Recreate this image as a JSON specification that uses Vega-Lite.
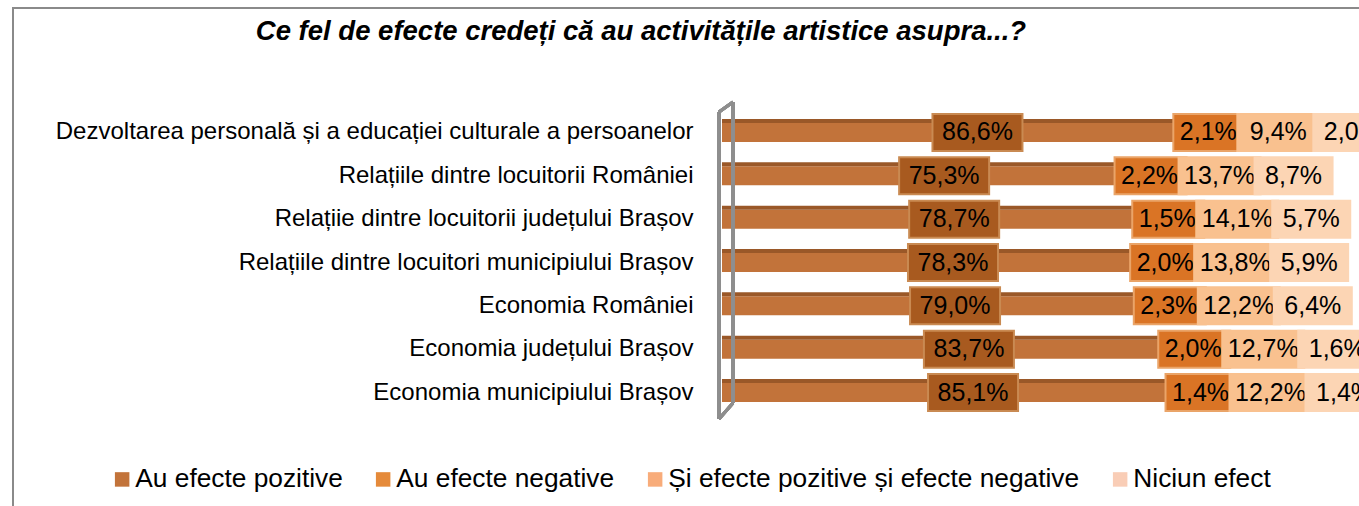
{
  "$schema": "https://vega.github.io/schema/vega-lite/v6.json",
  "autosize": "none",
  "width": 1420,
  "height": 520,
  "padding": {"left": 13, "top": 8, "right": 0, "bottom": 0},
  "background": "white",
  "config": {
    "view": {"stroke": "#8A8A8A", "strokeWidth": 2},
    "font": "Liberation Sans",
    "locale": {"number": {"decimal": ",", "thousands": ".", "grouping": [3], "currency": ["", " lei"]}}
  },
  "title": {
    "text": "Ce fel de efecte credeți că au activitățile artistice asupra...?",
    "font": "Liberation Sans",
    "fontSize": 27.5,
    "fontWeight": "bold",
    "fontStyle": "italic",
    "color": "black",
    "anchor": "middle",
    "frame": "group",
    "baseline": "alphabetic",
    "offset": -59,
    "dx": -82
  },
  "data": {
    "values": [
      {"cat": "Dezvoltarea personală și a educației culturale a persoanelor", "a_poz": 0.866, "b_neg": 0.021, "c_amb": 0.094, "d_nic": 0.020},
      {"cat": "Relațiile dintre locuitorii României", "a_poz": 0.753, "b_neg": 0.022, "c_amb": 0.137, "d_nic": 0.087},
      {"cat": "Relațiie dintre locuitorii județului Brașov", "a_poz": 0.787, "b_neg": 0.015, "c_amb": 0.141, "d_nic": 0.057},
      {"cat": "Relațiile dintre locuitori municipiului Brașov", "a_poz": 0.783, "b_neg": 0.020, "c_amb": 0.138, "d_nic": 0.059},
      {"cat": "Economia României", "a_poz": 0.790, "b_neg": 0.023, "c_amb": 0.122, "d_nic": 0.064},
      {"cat": "Economia județului Brașov", "a_poz": 0.837, "b_neg": 0.020, "c_amb": 0.127, "d_nic": 0.016},
      {"cat": "Economia municipiului Brașov", "a_poz": 0.851, "b_neg": 0.014, "c_amb": 0.122, "d_nic": 0.014}
    ]
  },
  "resolve": {"scale": {"x": "independent"}},
  "layer": [
    {
      "encoding": {
        "y": {
          "field": "cat",
          "type": "nominal",
          "sort": null,
          "scale": {"range": [102.8, 406.2], "paddingInner": 0, "paddingOuter": 0},
          "axis": {
            "title": null,
            "offset": -706,
            "labelPadding": 26,
            "ticks": false,
            "domain": false,
            "grid": false,
            "labelFont": "Liberation Sans",
            "labelFontSize": 24,
            "labelColor": "black",
            "labelLimit": 900
          }
        }
      },
      "layer": [
        {
          "transform": [{"fold": ["a_poz", "b_neg", "c_amb", "d_nic"], "as": ["serie", "val"]}],
          "mark": {"type": "bar", "height": 19},
          "encoding": {
            "x": {"field": "val", "type": "quantitative", "stack": "zero", "scale": {"domain": [0, 1], "range": [709, 1299]}, "axis": null},
            "order": {"field": "serie", "sort": "ascending"},
            "color": {
              "field": "serie",
              "type": "nominal",
              "scale": {"domain": ["a_poz", "b_neg", "c_amb", "d_nic"], "range": ["#C2733A", "#E58A3A", "#F8AC7A", "#F9CDB6"]},
              "legend": {
                "orient": "none",
                "legendX": 96,
                "legendY": 458,
                "direction": "horizontal",
                "title": null,
                "symbolType": "square",
                "symbolSize": 210,
                "symbolStrokeWidth": 0,
                "labelFont": "Liberation Sans",
                "labelFontSize": 26.3,
                "labelColor": "black",
                "labelOffset": 0,
                "labelLimit": 700,
                "columnPadding": 27,
                "labelExpr": "datum.value == 'a_poz' ? 'Au efecte pozitive' : datum.value == 'b_neg' ? 'Au efecte negative' : datum.value == 'c_amb' ? 'Și efecte pozitive și efecte negative' : 'Niciun efect'"
              }
            }
          }
        },
        {
          "transform": [{"fold": ["a_poz", "b_neg", "c_amb", "d_nic"], "as": ["serie", "val"]}],
          "mark": {"type": "bar", "height": 4, "yOffset": -11.5, "color": "#9A5828"},
          "encoding": {
            "x": {"field": "val", "type": "quantitative", "stack": "zero"},
            "order": {"field": "serie", "sort": "ascending"}
          }
        }
      ]
    },
    {
      "encoding": {
        "x": {"field": "a_poz", "type": "quantitative", "scale": {"domain": [0, 1], "range": [709, 1229]}, "axis": null},
        "y": {"field": "cat", "type": "nominal", "sort": null}
      },
      "layer": [
        {
          "mark": {"type": "tick", "thickness": 72, "size": 37, "xOffset": 37, "color": "#DA7425", "stroke": "#EAA468", "strokeWidth": 2, "opacity": 1}
        },
        {
          "mark": {"type": "text", "dx": 36, "fontSize": 25, "align": "center", "baseline": "middle", "color": "black"},
          "encoding": {"text": {"field": "b_neg", "type": "quantitative", "format": ".1%"}}
        },
        {
          "mark": {"type": "tick", "thickness": 84, "size": 39, "xOffset": 106, "color": "#F9C18F", "opacity": 1}
        },
        {
          "mark": {"type": "text", "dx": 106, "fontSize": 25, "align": "center", "baseline": "middle", "color": "black"},
          "encoding": {"text": {"field": "c_amb", "type": "quantitative", "format": ".1%"}}
        },
        {
          "mark": {"type": "tick", "thickness": 80, "size": 39, "xOffset": 180, "color": "#FCD5B4", "opacity": 1}
        },
        {
          "mark": {"type": "text", "dx": 180, "fontSize": 25, "align": "center", "baseline": "middle", "color": "black"},
          "encoding": {"text": {"field": "d_nic", "type": "quantitative", "format": ".1%"}}
        }
      ]
    },
    {
      "layer": [
        {
          "mark": {"type": "tick", "thickness": 90, "size": 37, "color": "#A85A1F", "stroke": "#C98A52", "strokeWidth": 2, "opacity": 1},
          "encoding": {
            "x": {"field": "a_poz", "type": "quantitative", "scale": {"domain": [0, 1], "range": [709, 1004]}, "axis": null},
            "y": {"field": "cat", "type": "nominal", "sort": null}
          }
        },
        {
          "mark": {"type": "text", "fontSize": 25, "align": "center", "baseline": "middle", "color": "black"},
          "encoding": {
            "x": {"field": "a_poz", "type": "quantitative"},
            "y": {"field": "cat", "type": "nominal", "sort": null},
            "text": {"field": "a_poz", "type": "quantitative", "format": ".1%"}
          }
        },
        {
          "mark": {"type": "rule", "color": "#8E8E8E", "strokeWidth": 3, "xOffset": -3, "yOffset": -20.5, "y2Offset": 26.5},
          "encoding": {
            "x": {"datum": 0, "type": "quantitative"},
            "y": {"datum": "Dezvoltarea personală și a educației culturale a persoanelor", "type": "nominal"},
            "y2": {"datum": "Economia municipiului Brașov"}
          }
        },
        {
          "mark": {"type": "rule", "color": "#8E8E8E", "strokeWidth": 3, "xOffset": 11, "yOffset": -30.5, "y2Offset": 10.5},
          "encoding": {
            "x": {"datum": 0, "type": "quantitative"},
            "y": {"datum": "Dezvoltarea personală și a educației culturale a persoanelor", "type": "nominal"},
            "y2": {"datum": "Economia municipiului Brașov"}
          }
        },
        {
          "mark": {"type": "rule", "color": "#8E8E8E", "strokeWidth": 3, "xOffset": -3, "x2Offset": 11, "yOffset": -20.5, "y2Offset": -30.5},
          "encoding": {
            "x": {"datum": 0, "type": "quantitative"},
            "x2": {"datum": 0},
            "y": {"datum": "Dezvoltarea personală și a educației culturale a persoanelor", "type": "nominal"},
            "y2": {"datum": "Dezvoltarea personală și a educației culturale a persoanelor"}
          }
        },
        {
          "mark": {"type": "rule", "color": "#8E8E8E", "strokeWidth": 3, "xOffset": -3, "x2Offset": 11, "yOffset": 26.5, "y2Offset": 10.5},
          "encoding": {
            "x": {"datum": 0, "type": "quantitative"},
            "x2": {"datum": 0},
            "y": {"datum": "Economia municipiului Brașov", "type": "nominal"},
            "y2": {"datum": "Economia municipiului Brașov"}
          }
        }
      ]
    }
  ]
}
